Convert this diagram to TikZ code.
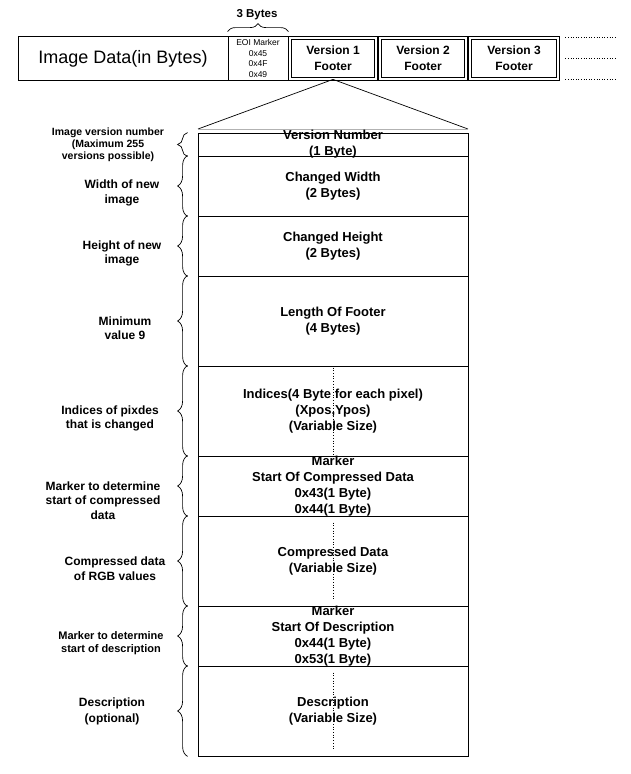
\documentclass[tikz,border=0pt]{standalone}
\usepackage{fontspec}
\setmainfont{Liberation Sans}
\usetikzlibrary{decorations.pathreplacing}
\tikzset{
  field/.style={draw, line width=0.8pt, minimum width=270pt, inner sep=0pt},
  fieldtext/.style={align=center, inner sep=0pt, font=\fontsize{13}{16}\selectfont\bfseries},
  fieldbrace/.style={decorate, decoration={brace, amplitude=10pt}, line width=0.7pt},
  version/.style={draw, double, double distance=1.6pt, line width=0.8pt, minimum height=41pt, inner sep=0pt, align=center, font=\fontsize{12}{16}\selectfont\bfseries},
}
\begin{document}
\begin{tikzpicture}[x=1pt, y=-1pt]
  \useasboundingbox (0,0) rectangle (631,774);
  \node[draw, line width=0.8pt, minimum width=210pt, minimum height=44pt, inner sep=0pt, font=\fontsize{18}{20}\selectfont](img) at (123,58.5){Image Data(in Bytes)};
  \node[draw, line width=0.8pt, minimum width=60pt, minimum height=44pt, inner sep=0pt, align=center, font=\fontsize{8.5}{10.7}\selectfont](eoi) at (258,58.5){EOI Marker\\0x45\\0x4F\\0x49};
  \foreach \x/\c/\w in {1/333/86, 2/423/86, 3/514/88}{
    \node[version, minimum width=\w pt](V\x) at (\c,58.5){Version \x\\Footer};
  }
  \foreach \a in {north east, east, south east}{
    \draw[dotted, line width=0.6pt]([xshift=7pt]V3.\a) -- ++(50,0);
  }
  \draw[fieldbrace, decoration={amplitude=8pt}]([yshift=4.5pt]eoi.north west) -- ([yshift=4.5pt]eoi.north east);
  \node[font=\fontsize{11.5}{14}\selectfont\bfseries](bytes) at (257,15){3 Bytes};
  \coordinate (tl) at (198,129);
  \coordinate (tr) at (468,129);
  \draw[line width=0.7pt](tl) -- (V1.south) -- (tr);
  \draw[gray!60, line width=0.6pt](tl) -- (tr);
  \foreach \i/\ya/\yb/\t in {1/133/156/{Version Number\\(1 Byte)}, 2/156/216/{Changed Width\\(2 Bytes)}, 3/216/276/{Changed Height\\(2 Bytes)}, 4/276/366/{Length Of Footer\\(4 Bytes)}, 5/366/456/{Indices(4 Byte for each pixel)\\(Xpos,Ypos)\\(Variable Size)}, 6/456/516/{Marker\\Start Of Compressed Data\\0x43(1 Byte)\\0x44(1 Byte)}, 7/516/606/{Compressed Data\\(Variable Size)}, 8/606/666/{Marker\\Start Of Description\\0x44(1 Byte)\\0x53(1 Byte)}, 9/666/756/{Description\\(Variable Size)}}{
    \node[field, minimum height={(\yb-\ya)*1pt}](R\i) at (333,{(\ya+\yb)/2}){};
    \node[fieldtext](T\i) at (R\i){\t};
  }
  \foreach \i/\a/\b in {5/2/1, 7/7/8, 9/7/8}{
    \draw[dotted, line width=0.7pt]([yshift=-\a pt]R\i.north) -- ([yshift=\b pt]R\i.south);
  }
  \foreach \i/\x/\y/\fs/\ls/\t in {1/108/145/10.5/12/{Image version number\\(Maximum 255\\versions possible)}, 2/122/193/12/14.5/{Width of new\\image}, 3/122/253.5/12/14.5/{Height of new\\image}, 4/125/328/12/14.5/{Minimum\\value 9}, 5/110/418.5/12/14.5/{Indices of pixdes\\that is changed}, 6/103/500.5/12/14.5/{Marker to determine\\start of compressed\\data}, 7/115/568.5/12/14.5/{Compressed data\\of RGB values}, 8/111/643/11/12.5/{Marker to determine\\start of description}, 9/112/711/12/16/{Description\\(optional)}}{
    \node[align=center, inner sep=0pt, font=\fontsize{\fs}{\ls}\selectfont\bfseries](L\i) at (\x,\y){\t};
    \draw[fieldbrace]([xshift=-10pt]R\i.south west) -- ([xshift=-10pt]R\i.north west);
  }
\end{tikzpicture}
\end{document}
